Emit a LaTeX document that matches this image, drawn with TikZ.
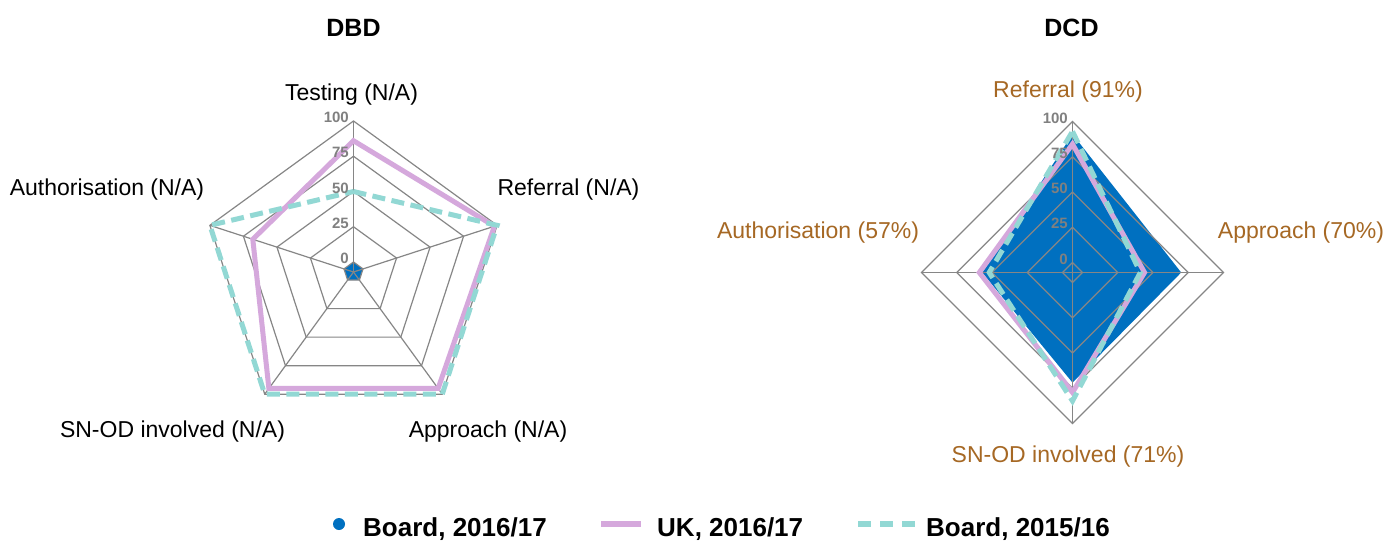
\documentclass[tikz,border=0pt]{standalone}
\usepackage{fontspec}
\setmainfont{Liberation Sans}
\definecolor{gridc}{RGB}{134,134,134}
\definecolor{boardblue}{RGB}{0,112,192}
\definecolor{ukpurple}{RGB}{213,168,220}
\definecolor{tealold}{RGB}{146,216,212}
\definecolor{lblbrown}{RGB}{166,104,36}
\definecolor{valgray}{RGB}{128,128,128}
\tikzset{
  gridline/.style={draw=gridc, line width=1.2pt},
  ukline/.style={draw=ukpurple, line width=5pt, line join=miter},
  oldline/.style={draw=tealold, line width=5pt, dash pattern=on 13pt off 6.5pt},
  bluefill/.style={fill=boardblue},
  axlabel/.style={font=\fontsize{23}{27}\selectfont, anchor=base, inner sep=0pt},
  charttitle/.style={font=\fontsize{25}{30}\selectfont\bfseries, anchor=base, inner sep=0pt},
  vallabel/.style={font=\fontsize{15}{18}\selectfont\bfseries, text=valgray, anchor=base east, inner sep=0pt},
  legtext/.style={font=\fontsize{26}{30}\selectfont\bfseries, anchor=base west, inner sep=0pt},
}
\begin{document}
\begin{tikzpicture}[x=1pt,y=-1pt]
\useasboundingbox (0,0) rectangle (1399,541);
\fill[white] (0,0) rectangle (1399,541);

% ---------------- Left chart: DBD ----------------
\coordinate (L) at (353.5,272);
\begin{scope}[shift={(353.5,272)}]
  \fill[bluefill] (-90:10) -- (-18:10) -- (54:10) -- (126:10) -- (198:10) -- cycle;
  \foreach \v in {0,25,50,75,100}{
    \pgfmathsetmacro{\r}{10+1.41*\v}
    \draw[gridline] (-90:\r) -- (-18:\r) -- (54:\r) -- (126:\r) -- (198:\r) -- cycle;
  }
  \foreach \a in {-90,-18,54,126,198}{
    \draw[gridline] (0,0) -- (\a:151);
  }
  \draw[ukline] (-90:{10+1.41*86}) -- (-18:{10+1.41*98}) -- (54:{10+1.41*95})
     -- (126:{10+1.41*95}) -- (198:{10+1.41*68}) -- cycle;
  \draw[oldline] (-90:{10+1.41*50}) -- (-18:{10+1.41*100}) -- (54:{10+1.41*100})
     -- (126:{10+1.41*100}) -- (198:{10+1.41*100}) -- cycle;
\end{scope}
\node[vallabel] (lv0)   at (349,263.5) {0};
\node[vallabel] (lv25)  at (349,228.2) {25};
\node[vallabel] (lv50)  at (349,193)   {50};
\node[vallabel] (lv75)  at (349,157.7) {75};
\node[vallabel] (lv100) at (349,122.5) {100};
\node[charttitle] (tdbd) at (353.5,36) {DBD};
\node[axlabel] (ltest) at (351.5,100) {Testing (N/A)};
\node[axlabel] (lref)  at (568.5,195) {Referral (N/A)};
\node[axlabel] (lauth) at (107,195)   {Authorisation (N/A)};
\node[axlabel] (lapp)  at (488,437)   {Approach (N/A)};
\node[axlabel] (lsnod) at (172.5,437) {SN-OD involved (N/A)};

% ---------------- Right chart: DCD ----------------
\coordinate (R) at (1072.5,272.5);
\begin{scope}[shift={(1072.5,272.5)}]
  \fill[bluefill] (-90:{10+1.41*91}) -- (0:{10+1.41*70}) -- (90:{10+1.41*71})
     -- (180:{10+1.41*57}) -- cycle;
  \foreach \v in {0,25,50,75,100}{
    \pgfmathsetmacro{\r}{10+1.41*\v}
    \draw[gridline] (-90:\r) -- (0:\r) -- (90:\r) -- (180:\r) -- cycle;
  }
  \foreach \a in {-90,0,90,180}{
    \draw[gridline] (0,0) -- (\a:151);
  }
  \draw[ukline] (-90:{10+1.41*84}) -- (0:{10+1.41*44}) -- (90:{10+1.41*78})
     -- (180:{10+1.41*59}) -- cycle;
  \draw[oldline] (-90:{10+1.41*93}) -- (0:{10+1.41*41}) -- (90:{10+1.41*84})
     -- (180:{10+1.41*52}) -- cycle;
\end{scope}
\node[vallabel] (rv0)   at (1068,264)   {0};
\node[vallabel] (rv25)  at (1068,228.7) {25};
\node[vallabel] (rv50)  at (1068,193.5) {50};
\node[vallabel] (rv75)  at (1068,158.2) {75};
\node[vallabel] (rv100) at (1068,123)   {100};
\node[charttitle] (tdcd) at (1071.5,36) {DCD};
\node[axlabel, text=lblbrown] (rref)  at (1068,97)    {Referral (91\%)};
\node[axlabel, text=lblbrown] (rauth) at (818,238.5)  {Authorisation (57\%)};
\node[axlabel, text=lblbrown] (rapp)  at (1301,238.5) {Approach (70\%)};
\node[axlabel, text=lblbrown] (rsnod) at (1068,462)   {SN-OD involved (71\%)};

% ---------------- Legend ----------------
\fill[boardblue] (339,524) circle (6);
\node[legtext] (leg1) at (363,536.5) {Board, 2016/17};
\coordinate (p1a) at (601,524);
\coordinate (p1b) at (641,524);
\draw[draw=ukpurple, line width=5.4pt] (p1a) -- (p1b);
\node[legtext] (leg2) at (657,536.5) {UK, 2016/17};
\coordinate (p2a) at (858,524);
\coordinate (p2b) at (914.5,524);
\draw[draw=tealold, line width=5.4pt, dash pattern=on 12.5pt off 9.5pt] (p2a) -- (p2b);
\node[legtext] (leg3) at (926,536.5) {Board, 2015/16};
\end{tikzpicture}
\end{document}
